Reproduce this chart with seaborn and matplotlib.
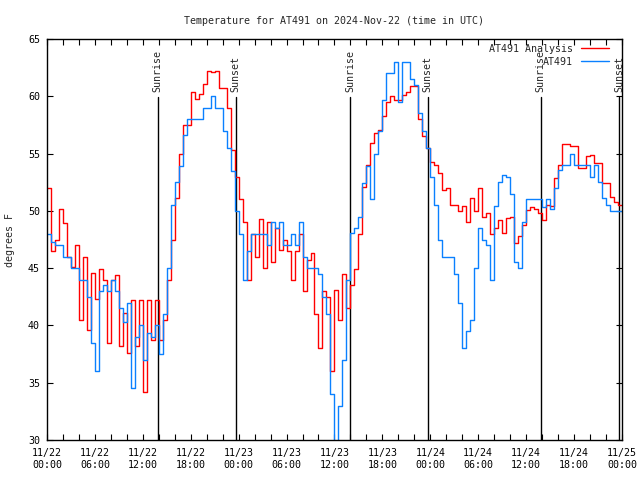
import numpy as np
import pandas as pd
import matplotlib
matplotlib.use("Agg")
import matplotlib.pyplot as plt
import matplotlib.dates as mdates
import matplotlib.transforms as mtransforms
import seaborn as sns

# half-hourly readings from 2024-11-22 00:00 UTC
start = "2024-11-22 00:00"

analysis_temp = [
    52.0, 46.5, 47.5, 50.2, 48.9, 46.0, 45.1, 47.0, 40.5, 46.0,
    39.6, 44.6, 42.3, 44.9, 44.0, 38.5, 44.0, 44.4, 38.2, 41.1,
    37.6, 42.2, 38.2, 42.2, 34.2, 42.2, 38.7, 42.2, 38.7, 40.5,
    44.0, 47.5, 51.1, 55.0, 57.5, 57.5, 60.4, 59.8, 60.2, 61.1,
    62.2, 62.1, 62.2, 60.7, 60.7, 59.0, 55.3, 53.0, 51.0, 49.0,
    44.0, 48.0, 46.0, 49.3, 45.0, 49.0, 45.5, 48.5, 46.6, 47.5,
    46.5, 44.0, 46.5, 48.0, 43.0, 45.7, 46.3, 41.0, 38.0, 43.0,
    42.5, 36.0, 43.1, 40.5, 44.5, 41.5, 43.5, 44.9, 48.0, 52.1,
    54.0, 55.9, 56.8, 57.1, 58.3, 59.5, 60.0, 59.7, 59.7, 60.1,
    60.4, 60.9, 60.9, 58.0, 56.5, 55.5, 54.3, 54.0, 53.3, 51.8,
    52.0, 50.5, 50.5, 50.0, 50.4, 49.0, 51.1, 50.0, 52.0, 49.5,
    49.8, 48.0, 48.5, 49.2, 48.1, 49.4, 49.5, 47.2, 47.8, 48.8,
    50.1, 50.3, 50.2, 49.8, 49.2, 50.5, 50.4, 52.9, 54.0, 55.8,
    55.8, 55.7, 55.7, 53.7, 53.7, 54.8, 54.9, 54.2, 54.2, 52.4,
    52.4, 51.2, 50.8, 50.5, 50.5,
]

station_temp = [
    48.0, 47.3, 47.0, 47.0, 46.0, 46.0, 45.0, 45.0, 44.0, 44.0,
    42.5, 38.5, 36.0, 43.0, 43.5, 43.0, 44.0, 43.0, 41.5, 40.3,
    42.0, 34.5, 39.0, 40.0, 37.0, 39.3, 39.0, 40.0, 37.5, 41.0,
    45.0, 50.5, 52.5, 53.9, 56.6, 58.0, 58.0, 58.0, 58.0, 59.0,
    59.0, 60.0, 59.0, 59.0, 57.0, 55.5, 53.5, 50.0, 48.0, 44.0,
    46.5, 48.0, 48.0, 48.0, 48.0, 47.0, 49.0, 48.5, 49.0, 47.0,
    47.0, 48.0, 47.0, 49.0, 46.0, 45.0, 45.0, 45.0, 44.5, 42.5,
    41.0, 34.0, 29.5, 33.0, 37.0, 44.0, 48.1, 48.5, 49.5, 52.4,
    53.9, 51.0, 55.0, 57.0, 59.7, 62.0, 62.0, 63.0, 59.5, 63.0,
    63.0, 61.5, 61.0, 58.5, 57.0, 55.5, 53.0, 50.5, 47.5, 46.0,
    46.0, 46.0, 44.5, 42.0, 38.0, 39.5, 40.5, 45.0, 48.5, 47.5,
    47.0, 44.0, 50.4, 52.5, 53.1, 53.0, 51.5, 45.5, 45.0, 49.0,
    51.0, 51.0, 51.0, 51.0, 50.3, 51.0, 50.2, 52.0, 53.6, 54.0,
    54.0, 55.0, 54.0, 54.0, 54.0, 54.0, 53.0, 54.0, 52.5, 51.1,
    50.5, 50.0, 50.0, 50.0, 50.0,
]

sun_events = ["2024-11-22 13:51", "2024-11-22 23:37", "2024-11-23 13:56",
              "2024-11-23 23:40", "2024-11-24 13:49", "2024-11-24 23:38"]
sun_labels = ["Sunrise", "Sunset", "Sunrise", "Sunset", "Sunrise", "Sunset"]

y_ticks = [30, 35, 40, 45, 50, 55, 60, 65]

df = pd.concat([
    pd.DataFrame({"time": pd.date_range(start, periods=len(analysis_temp), freq="30min"),
                  "temp": analysis_temp, "series": "AT491 Analysis"}),
    pd.DataFrame({"time": pd.date_range(start, periods=len(station_temp), freq="30min"),
                  "temp": station_temp, "series": "AT491"}),
], ignore_index=True)

sns.set_style("ticks")
plt.rcParams["font.family"] = ["DejaVu Sans Mono"]
fs = 7.2

fig = plt.figure(figsize=(6.4, 4.8), dpi=100)
ax = fig.add_axes([0.0734, 0.0833, 0.8984, 0.8354])

# sunrise / sunset markers
trans = mtransforms.blended_transform_factory(ax.transData, ax.transAxes)
for t, lab in zip(sun_events, sun_labels):
    xt = mdates.date2num(pd.Timestamp(t))
    ax.plot([xt, xt], [0, 0.855], color="black", lw=1.0, transform=trans)
    ax.text(xt, 0.868, lab, rotation=90, ha="center", va="bottom",
            fontsize=fs, transform=trans)

sns.lineplot(data=df, x="time", y="temp", hue="series",
             palette={"AT491 Analysis": "#ff0000", "AT491": "#0a80ff"},
             drawstyle="steps-post", lw=1.0, estimator=None, ax=ax)

ax.set_xlim(pd.Timestamp("2024-11-22 00:00"), pd.Timestamp("2024-11-25 00:00"))
ax.set_ylim(30, 65)
ax.set_yticks(y_ticks)
ax.xaxis.set_major_locator(mdates.HourLocator(byhour=[0, 6, 12, 18]))
ax.xaxis.set_minor_locator(mdates.HourLocator(byhour=range(0, 24, 2)))
ax.xaxis.set_major_formatter(mdates.DateFormatter("%m/%d\n%H:%M"))
ax.tick_params(axis="both", which="both", direction="in", length=4, width=0.8,
               top=True, right=True, labelsize=fs, colors="black")
ax.tick_params(axis="x", which="major", pad=6)
ax.tick_params(axis="y", pad=5)
for sp in ax.spines.values():
    sp.set_color("black")
    sp.set_linewidth(1.0)

ax.set_xlabel("")
ax.set_ylabel("degrees F", fontsize=fs)
ax.yaxis.set_label_coords(-0.056, 0.5)
ax.set_title("Temperature for AT491 on 2024-Nov-22 (time in UTC)", fontsize=fs, pad=11)

leg = ax.legend(loc="upper right", bbox_to_anchor=(0.978, 0.988), frameon=False,
                markerfirst=False, fontsize=fs, handlelength=2.8, handletextpad=0.8,
                labelspacing=0.3, borderpad=0, borderaxespad=0)

fig.savefig("out.png", dpi=100)
